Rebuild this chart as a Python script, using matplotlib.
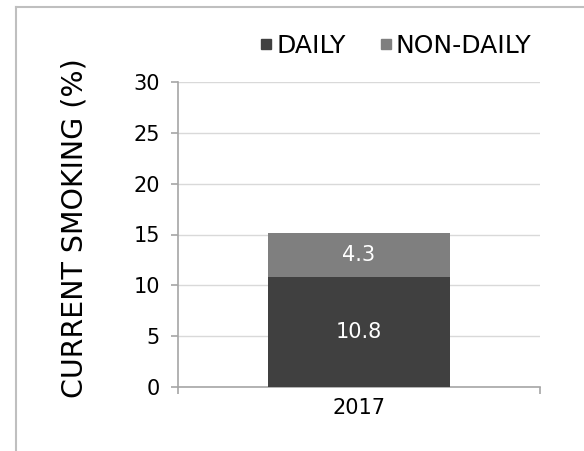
import matplotlib
matplotlib.use("Agg")
import matplotlib.pyplot as plt
from matplotlib.lines import Line2D

categories = ["2017"]
daily = [10.8]
non_daily = [4.3]
series_names = ["DAILY", "NON-DAILY"]
yticks = [0, 5, 10, 15, 20, 25, 30]

plt.rcParams['font.family'] = ['DejaVu Sans']

fig = plt.figure(figsize=(5.84, 4.51), dpi=100)
ax = fig.add_axes([178/584, 1-387/451, (540-178)/584, (387-82)/451])

x = list(range(len(categories)))
c1, c2 = '#404040', '#7f7f7f'
ax.bar(x, daily, width=0.505, color=c1, zorder=3, label=series_names[0])
ax.bar(x, non_daily, bottom=daily, width=0.505, color=c2, zorder=3, label=series_names[1])
for i in x:
    ax.text(i, daily[i]/2, f"{daily[i]}", ha='center', va='center', color='white', fontsize=15, zorder=4)
    ax.text(i, daily[i] + non_daily[i]/2, f"{non_daily[i]}", ha='center', va='center', color='white', fontsize=15, zorder=4)

ax.set_xlim(-0.5, len(categories)-0.5)
ax.set_ylim(0, 30)
ax.set_yticks(yticks)
ax.set_yticklabels([str(t) for t in yticks], fontsize=15)
ax.set_xticks(x)
ax.set_xticklabels(categories, fontsize=15)
ax.set_xticks([-0.5, len(categories)-0.5], minor=True)
ax.tick_params(axis='x', which='major', length=0, pad=8)
ax.tick_params(axis='x', which='minor', length=5, color='#a6a6a6', width=1.2, direction='out')
ax.tick_params(axis='y', length=5, color='#a6a6a6', width=1.2, direction='out', pad=8)
ax.grid(axis='y', color='#d9d9d9', linewidth=1, zorder=0)
for s in ['top', 'right']:
    ax.spines[s].set_visible(False)
for s in ['left', 'bottom']:
    ax.spines[s].set_color('#a6a6a6')
    ax.spines[s].set_linewidth(1.2)
ax.set_ylabel("CURRENT SMOKING (%)", fontsize=20.5)
ax.yaxis.set_label_coords((89-178)/362, 0.52)

handles = [Line2D([0], [0], marker='s', linestyle='none', markersize=7.8, markerfacecolor=c, markeredgecolor=c) for c in (c1, c2)]
fig.legend(handles, series_names, loc='center', bbox_to_anchor=(395/584, 1-46/451), ncol=2,
           frameon=False, fontsize=18, handletextpad=0.1, columnspacing=1.3, handlelength=0.6,
           borderpad=0, borderaxespad=0)

# outer border (left and top)
fig.add_artist(Line2D([16/584, 16/584], [0, 1-7/451], color='#bfbfbf', linewidth=1.5, transform=fig.transFigure))
fig.add_artist(Line2D([16/584, 1], [1-7/451, 1-7/451], color='#bfbfbf', linewidth=1.5, transform=fig.transFigure))

fig.savefig("out.png", dpi=100)
